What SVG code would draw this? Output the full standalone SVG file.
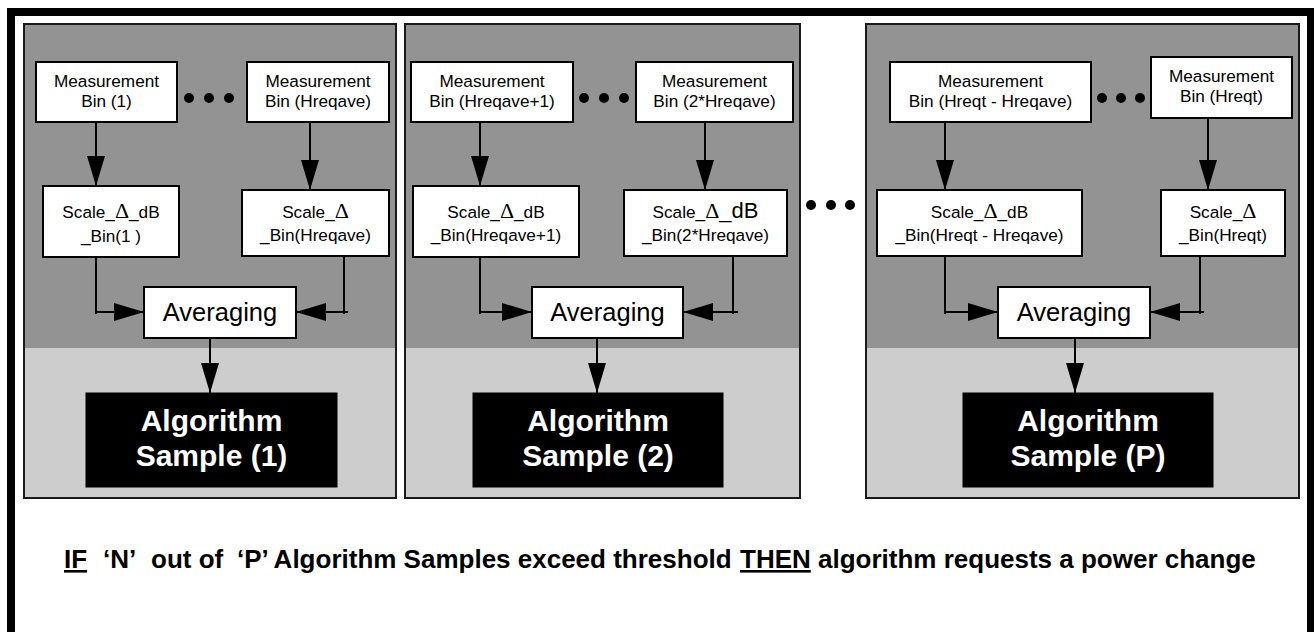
<svg xmlns="http://www.w3.org/2000/svg" width="1314" height="632" viewBox="0 0 1314 632">
<style>
.bg{fill:#fff}
.frame{fill:none;stroke:#000;stroke-width:8}
.plight{fill:#cdcdcd}
.pdark{fill:#939393}
.pedge{fill:none;stroke:#1a1a1a;stroke-width:2}
.box{fill:#fff;stroke:#000;stroke-width:2}
.abox{fill:#000;stroke:#000;stroke-width:1}
.t{font-family:"Liberation Sans",Arial,sans-serif;font-size:17.2px;text-anchor:middle;fill:#000}
.d{font-family:"Liberation Serif","Times New Roman",serif;font-size:22px}
.big{font-size:22px}
.avg{font-family:"Liberation Sans",Arial,sans-serif;font-size:25.5px;text-anchor:middle;fill:#000}
.alg{font-family:"Liberation Sans",Arial,sans-serif;font-size:30px;font-weight:bold;text-anchor:middle;fill:#fff}
.ln{fill:none;stroke:#000;stroke-width:2}
.ar{fill:none;stroke:#000;stroke-width:2;marker-end:url(#ah)}
.dot{fill:#000}
.foot{font-family:"Liberation Sans",Arial,sans-serif;font-size:26px;font-weight:bold;fill:#000}
</style>
<defs>
<marker id="ah" viewBox="0 0 30 18" refX="30" refY="9" markerWidth="30" markerHeight="18" markerUnits="userSpaceOnUse" orient="auto">
<path d="M0,0 L30,9 L0,18 Z" fill="#000"/>
</marker>
</defs>
<rect class="bg" x="0" y="0" width="1314" height="632"/>
<path class="frame" d="M11,650 V12 H1311 V650"/>

<g id="panel1">
<rect class="plight" x="24" y="24" width="372" height="474"/>
<rect class="pdark" x="24" y="24" width="372" height="324"/>
<rect class="pedge" x="24" y="24" width="372" height="474"/>
</g>
<g id="panel2">
<rect class="plight" x="405" y="24" width="395" height="474"/>
<rect class="pdark" x="405" y="24" width="395" height="324"/>
<rect class="pedge" x="405" y="24" width="395" height="474"/>
</g>
<g id="panel3">
<rect class="plight" x="866" y="24" width="433" height="474"/>
<rect class="pdark" x="866" y="24" width="433" height="324"/>
<rect class="pedge" x="866" y="24" width="433" height="474"/>
</g>

<g id="connectors">
<path class="ar" d="M96,122 V186"/>
<path class="ar" d="M310,122 V190"/>
<path class="ln" d="M96,257 V314"/>
<path class="ar" d="M95,312 H144"/>
<path class="ln" d="M344,256 V314"/>
<path class="ar" d="M348,312 H296"/>
<path class="ar" d="M210,338 V393"/>

<path class="ar" d="M480,122 V186"/>
<path class="ar" d="M705,122 V190"/>
<path class="ln" d="M480,257 V314"/>
<path class="ar" d="M479,312 H532"/>
<path class="ln" d="M733,256 V314"/>
<path class="ar" d="M738,312 H683"/>
<path class="ar" d="M597,338 V393"/>

<path class="ar" d="M945,122 V190"/>
<path class="ar" d="M1208,118 V190"/>
<path class="ln" d="M945,256 V314"/>
<path class="ar" d="M944,312 H998"/>
<path class="ln" d="M1200,256 V314"/>
<path class="ar" d="M1204,312 H1150"/>
<path class="ar" d="M1075,338 V393"/>
</g>

<g id="mb1">
<rect class="box" x="36" y="62" width="141" height="60"/>
<text class="t" x="106.5" y="87">Measurement</text>
<text class="t" x="106.5" y="107">Bin (1)</text>
</g>
<g id="mbH">
<rect class="box" x="247" y="62" width="142" height="60"/>
<text class="t" x="318" y="87">Measurement</text>
<text class="t" x="318" y="107">Bin (Hreqave)</text>
</g>
<g id="sb1">
<rect class="box" x="43" y="186" width="136" height="71"/>
<text class="t" x="111" y="218">Scale_<tspan class="d">Δ</tspan>_dB</text>
<text class="t" x="111" y="242">_Bin(1 )</text>
</g>
<g id="sbH">
<rect class="box" x="242" y="190" width="147" height="66"/>
<text class="t" x="315.5" y="218">Scale_<tspan class="d">Δ</tspan></text>
<text class="t" x="315.5" y="241">_Bin(Hreqave)</text>
</g>
<g id="avg1">
<rect class="box" x="144" y="287" width="152" height="51"/>
<text class="avg" x="220" y="321">Averaging</text>
</g>
<g id="alg1">
<rect class="abox" x="86" y="393" width="251" height="94"/>
<text class="alg" x="211.5" y="431">Algorithm</text>
<text class="alg" x="211.5" y="466">Sample (1)</text>
</g>

<g id="mbH1">
<rect class="box" x="411" y="62" width="162" height="60"/>
<text class="t" x="492" y="87">Measurement</text>
<text class="t" x="492" y="107">Bin (Hreqave+1)</text>
</g>
<g id="mb2H">
<rect class="box" x="636" y="62" width="157" height="60"/>
<text class="t" x="714.5" y="87">Measurement</text>
<text class="t" x="714.5" y="107">Bin (2*Hreqave)</text>
</g>
<g id="sbH1">
<rect class="box" x="413" y="186" width="166" height="71"/>
<text class="t" x="496" y="218">Scale_<tspan class="d">Δ</tspan>_dB</text>
<text class="t" x="496" y="241">_Bin(Hreqave+1)</text>
</g>
<g id="sb2H">
<rect class="box" x="624" y="190" width="163" height="66"/>
<text class="t" x="705.5" y="218">Scale_<tspan class="d">Δ</tspan><tspan class="big">_dB</tspan></text>
<text class="t" x="705.5" y="241">_Bin(2*Hreqave)</text>
</g>
<g id="avg2">
<rect class="box" x="532" y="287" width="151" height="51"/>
<text class="avg" x="607.5" y="321">Averaging</text>
</g>
<g id="alg2">
<rect class="abox" x="473" y="393" width="250" height="94"/>
<text class="alg" x="598" y="431">Algorithm</text>
<text class="alg" x="598" y="466">Sample (2)</text>
</g>

<g id="mbTH">
<rect class="box" x="890" y="62" width="201" height="60"/>
<text class="t" x="990.5" y="87">Measurement</text>
<text class="t" x="990.5" y="107">Bin (Hreqt - Hreqave)</text>
</g>
<g id="mbT">
<rect class="box" x="1151" y="57" width="141" height="61"/>
<text class="t" x="1221.5" y="82">Measurement</text>
<text class="t" x="1221.5" y="102">Bin (Hreqt)</text>
</g>
<g id="sbTH">
<rect class="box" x="877" y="190" width="205" height="66"/>
<text class="t" x="979.5" y="218">Scale_<tspan class="d">Δ</tspan>_dB</text>
<text class="t" x="979.5" y="241">_Bin(Hreqt - Hreqave)</text>
</g>
<g id="sbT">
<rect class="box" x="1161" y="190" width="124" height="66"/>
<text class="t" x="1223" y="218">Scale_<tspan class="d">Δ</tspan></text>
<text class="t" x="1223" y="241">_Bin(Hreqt)</text>
</g>
<g id="avg3">
<rect class="box" x="998" y="287" width="152" height="51"/>
<text class="avg" x="1074" y="321">Averaging</text>
</g>
<g id="alg3">
<rect class="abox" x="963" y="393" width="250" height="94"/>
<text class="alg" x="1088" y="431">Algorithm</text>
<text class="alg" x="1088" y="466">Sample (P)</text>
</g>

<g id="ellipses">
<circle class="dot" cx="189" cy="98" r="5"/><circle class="dot" cx="209" cy="98" r="5"/><circle class="dot" cx="229" cy="98" r="5"/>
<circle class="dot" cx="584" cy="98" r="5"/><circle class="dot" cx="604" cy="98" r="5"/><circle class="dot" cx="624" cy="98" r="5"/>
<circle class="dot" cx="1102" cy="98" r="5"/><circle class="dot" cx="1121" cy="98" r="5"/><circle class="dot" cx="1140" cy="98" r="5"/>
<circle class="dot" cx="811" cy="205" r="5"/><circle class="dot" cx="831" cy="205" r="5"/><circle class="dot" cx="850" cy="205" r="5"/>
</g>

<g id="caption">
<text class="foot" y="568"><tspan x="64" text-decoration="underline">IF</tspan><tspan x="103">‘N’</tspan><tspan x="151">out of</tspan><tspan x="237">‘P’ Algorithm Samples exceed threshold</tspan><tspan x="740" text-decoration="underline">THEN</tspan><tspan x="818">algorithm requests a power change</tspan></text>
</g>
</svg>
